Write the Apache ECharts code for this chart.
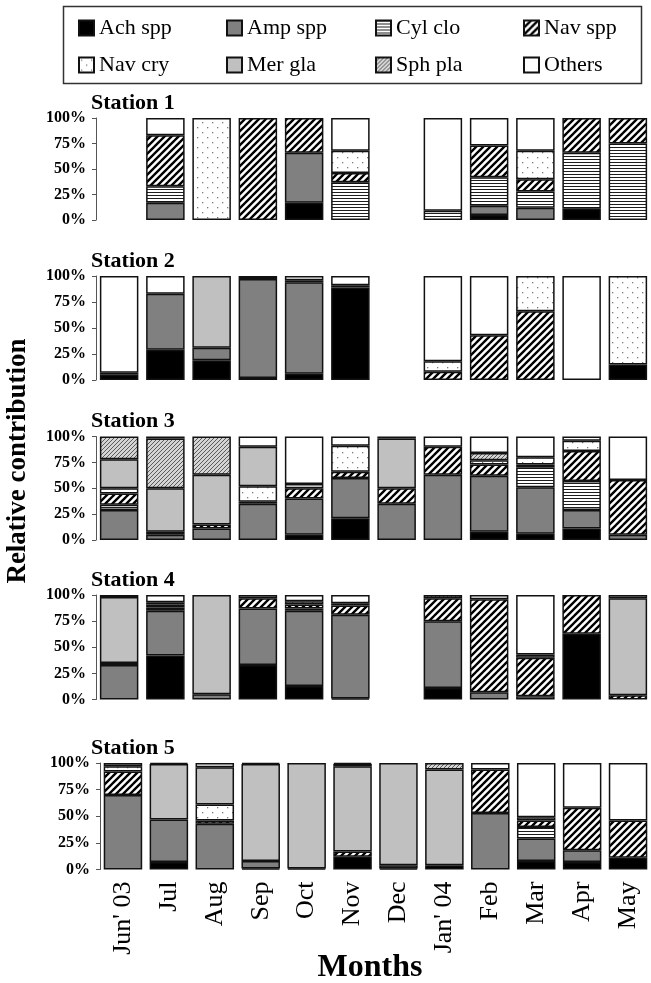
<!DOCTYPE html>
<html>
<head>
<meta charset="utf-8">
<script src="https://cdn.jsdelivr.net/npm/echarts@6/dist/echarts.min.js"></script>
<style>
html,body{margin:0;padding:0;background:#fff}
#chart{width:651px;height:983px}
</style>
</head>
<body>
<div id="chart"></div>
<script>
// Months sampled (x categories, shared by every station)
const months = ["Jun' 03", "Jul", "Aug", "Sep", "Oct", "Nov", "Dec", "Jan' 04", "Feb", "Mar", "Apr", "May"];
// Taxa, in stacking order from the bottom of each bar
const taxa = ["Ach spp", "Amp spp", "Cyl clo", "Nav spp", "Nav cry", "Mer gla", "Sph pla", "Others"];
const stationNames = ["Station 1", "Station 2", "Station 3", "Station 4", "Station 5"];
const yTickLabels = ["0%", "25%", "50%", "75%", "100%"];

// Relative contribution (%) per month, values in taxa order; null = no sample
const station1 = [
  null,
  [0, 17, 16, 50, 0, 0, 0, 17],
  [0, 0, 0, 0, 100, 0, 0, 0],
  [0, 0, 0, 100, 0, 0, 0, 0],
  [17, 49, 0, 34, 0, 0, 0, 0],
  [0, 0, 37, 9, 22, 0, 0, 32],
  null,
  [0, 0, 9, 0, 0, 0, 0, 91],
  [5, 9, 28, 31, 0, 0, 0, 27],
  [0, 12, 16, 12, 28, 0, 0, 32],
  [11, 0, 55, 34, 0, 0, 0, 0],
  [0, 0, 75, 25, 0, 0, 0, 0]
];
const station2 = [
  [5, 0, 0, 2, 0, 0, 0, 93],
  [29, 54, 0, 0, 0, 0, 0, 17],
  [19, 12, 0, 0, 0, 69, 0, 0],
  [2, 95, 0, 0, 0, 0, 0, 3],
  [6, 88, 0, 0, 0, 2, 0, 4],
  [89, 0, 0, 0, 0, 2, 0, 9],
  null,
  [0, 0, 0, 8, 10, 0, 0, 82],
  [0, 0, 0, 43, 0, 0, 0, 57],
  [0, 0, 0, 66, 34, 0, 0, 0],
  [0, 0, 0, 0, 0, 0, 0, 100],
  [15, 0, 0, 0, 85, 0, 0, 0]
];
const station3 = [
  [0, 29, 5, 11, 5, 28, 22, 0],
  [0, 5, 0, 3, 0, 42, 48, 2],
  [0, 11, 0, 4, 0, 48, 37, 0],
  [0, 35, 0, 2, 15, 38, 0, 10],
  [5, 35, 0, 10, 4, 0, 0, 46],
  [21, 39, 0, 6, 25, 0, 0, 9],
  [0, 35, 0, 15, 0, 48, 0, 2],
  [0, 63, 0, 27, 0, 0, 0, 10],
  [8, 54, 0, 11, 4, 0, 7, 16],
  [6, 45, 19, 3, 7, 0, 0, 20],
  [11, 18, 28, 29, 10, 0, 0, 4],
  [0, 5, 0, 53, 0, 0, 0, 42]
];
const station4 = [
  [0, 33, 2, 0, 0, 63, 0, 2],
  [42, 43, 3, 3, 2, 0, 0, 7],
  [0, 5, 0, 0, 0, 95, 0, 0],
  [33, 54, 0, 10, 0, 0, 0, 3],
  [13, 72, 2, 4, 3, 0, 0, 6],
  [1, 80, 0, 9, 0, 2, 0, 8],
  null,
  [11, 64, 0, 22, 0, 0, 3, 0],
  [0, 7, 0, 89, 0, 0, 0, 4],
  [0, 0, 3, 37, 0, 3, 0, 57],
  [63, 0, 0, 37, 0, 0, 0, 0],
  [0, 0, 0, 4, 0, 93, 0, 3]
];
const station5 = [
  [0, 70, 0, 22, 5, 0, 0, 3],
  [7, 40, 0, 0, 0, 52, 0, 1],
  [0, 43, 0, 3, 15, 35, 0, 4],
  [1, 7, 0, 0, 0, 91, 0, 1],
  [0, 1, 0, 0, 0, 99, 0, 0],
  [12, 0, 0, 5, 0, 80, 2, 1],
  [1, 3, 0, 0, 0, 96, 0, 0],
  [4, 0, 0, 0, 0, 90, 6, 0],
  [0, 53, 0, 41, 0, 0, 0, 6],
  [8, 21, 11, 6, 3, 0, 0, 51],
  [7, 11, 0, 40, 0, 0, 0, 42],
  [11, 0, 0, 35, 0, 0, 0, 54]
];
const stations = [station1, station2, station3, station4, station5];

// ---- fills: solid greys and small repeating canvas tiles ----
function tile(w, h, draw) {
  const c = document.createElement('canvas');
  c.width = w; c.height = h;
  const ctx = c.getContext('2d');
  draw(ctx, w, h);
  return { image: c, repeat: 'repeat' };
}
function diagonal(size, lw, fg, bg) {
  return tile(size, size, (ctx, w, h) => {
    ctx.fillStyle = bg; ctx.fillRect(0, 0, w, h);
    ctx.strokeStyle = fg; ctx.lineWidth = lw; ctx.lineCap = 'square';
    ctx.beginPath();
    for (let k = -1; k <= 1; k++) { ctx.moveTo(k * w, h); ctx.lineTo(k * w + w, 0); }
    ctx.stroke();
  });
}
const horizLines = tile(4, 3, (ctx, w, h) => {
  ctx.fillStyle = '#fff'; ctx.fillRect(0, 0, w, h);
  ctx.fillStyle = '#1e1e1e'; ctx.fillRect(0, 0, w, 1);
});
const dots = tile(10, 10, (ctx, w, h) => {
  ctx.fillStyle = '#fff'; ctx.fillRect(0, 0, w, h);
  ctx.fillStyle = '#7a7a7a';
  ctx.fillRect(2, 2, 1.3, 1.3);
  ctx.fillRect(7, 7, 1.3, 1.3);
});
const fills = [
  '#000000',                              // Ach spp
  '#808080',                              // Amp spp
  horizLines,                             // Cyl clo
  diagonal(7, 2.4, '#000', '#fff'),       // Nav spp
  dots,                                   // Nav cry
  '#c0c0c0',                              // Mer gla
  diagonal(4, 1, '#5a5a5a', '#d4d4d4'),   // Sph pla
  '#ffffff'                               // Others
];

// ---- panel layout ----
const panels = [
  { left: 96, width: 559, top: 118, height: 102 },
  { left: 96, width: 559, top: 276, height: 104 },
  { left: 96, width: 559, top: 436.5, height: 103.5 },
  { left: 96, width: 559, top: 595, height: 104.5 },
  { left: 100, width: 556, top: 763, height: 106.5 }
];
const serif = '"Liberation Serif", "Times New Roman", serif';

const grid = [], xAxis = [], yAxis = [], series = [], graphic = [];
panels.forEach((p, s) => {
  grid.push({ left: p.left, width: p.width, top: p.top, height: p.height, containLabel: false });
  const last = s === panels.length - 1;
  xAxis.push({
    gridIndex: s, type: 'category', data: months,
    axisLine: { show: false }, axisTick: { show: false },
    axisLabel: last ? {
      show: true, interval: 0, rotate: 90, margin: 12,
      fontFamily: serif, fontSize: 26, color: '#000'
    } : { show: false }
  });
  yAxis.push({
    gridIndex: s, type: 'value', min: 0, max: 100, interval: 25,
    axisLine: { show: true, lineStyle: { color: '#555', width: 1 } },
    axisTick: { show: true, length: 4, lineStyle: { color: '#555', width: 1 } },
    splitLine: { show: false },
    axisLabel: {
      formatter: v => yTickLabels[Math.round(v / 25)],
      fontFamily: serif, fontSize: 16, fontWeight: 'bold', color: '#000', margin: 10
    }
  });
  taxa.forEach((name, k) => {
    series.push({
      type: 'bar', name, stack: 'st' + s,
      xAxisIndex: s, yAxisIndex: s,
      barWidth: 38.5,
      data: stations[s].map(row => (row && row[k]) ? row[k] : null),
      itemStyle: { color: fills[k], borderColor: '#111', borderWidth: 1.5 },
      emphasis: { disabled: true },
      silent: true
    });
  });
  graphic.push({
    type: 'text', x: 91, y: p.top - 15,
    style: {
      text: stationNames[s], font: 'bold 22px ' + serif, fill: '#000',
      textAlign: 'left', textVerticalAlign: 'middle', align: 'left', verticalAlign: 'middle'
    }
  });
});

// legend frame
graphic.push({
  type: 'rect', shape: { x: 63.5, y: 6.5, width: 578, height: 77 },
  style: { fill: 'none', stroke: '#333', lineWidth: 1.5 }, silent: true
});
// axis titles
graphic.push({
  type: 'text', x: 18, y: 461, rotation: Math.PI / 2,
  style: {
    text: 'Relative contribution', font: 'bold 27px ' + serif, fill: '#000',
    textAlign: 'center', textVerticalAlign: 'middle', align: 'center', verticalAlign: 'middle'
  }
});
graphic.push({
  type: 'text', x: 370, y: 968,
  style: {
    text: 'Months', font: 'bold 32px ' + serif, fill: '#000',
    textAlign: 'center', textVerticalAlign: 'middle', align: 'center', verticalAlign: 'middle'
  }
});

// legend: two rows of four, fixed columns
const legendCols = [78, 226, 375, 523];
const legendRows = [28, 65];
const legend = taxa.map((name, k) => ({
  data: [name],
  left: legendCols[k % 4], top: legendRows[Math.floor(k / 4)] - 11,
  padding: 0, itemWidth: 15, itemHeight: 15, icon: 'rect',
  selectedMode: false,
  textStyle: { fontFamily: serif, fontSize: 22, color: '#000' }
}));

const chart = echarts.init(document.getElementById('chart'), null, { renderer: 'canvas' });
chart.setOption({
  animation: false,
  backgroundColor: '#fff',
  grid, xAxis, yAxis, series, legend, graphic
});
</script>
</body>
</html>
